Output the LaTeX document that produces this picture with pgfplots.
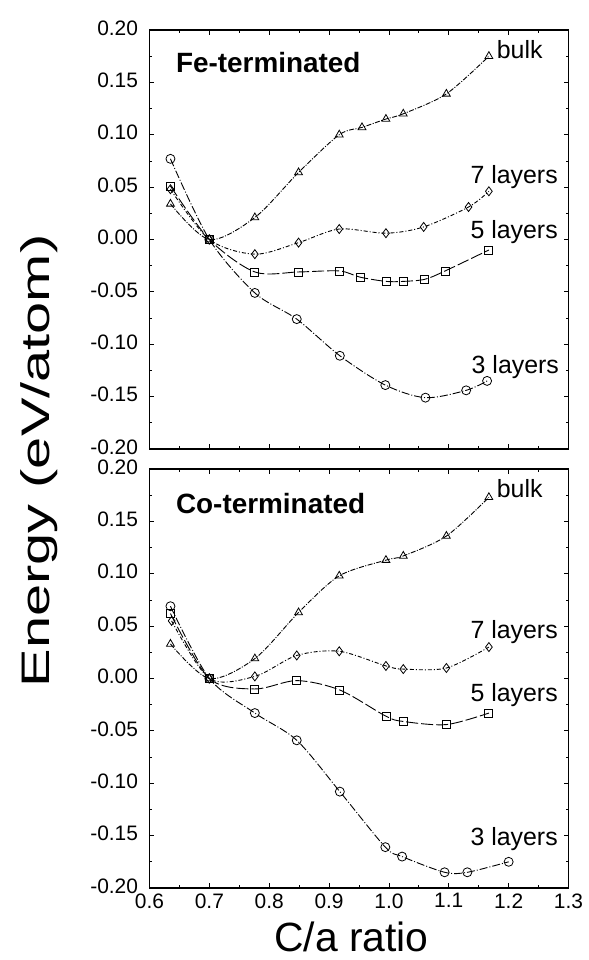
\documentclass[border=0pt]{standalone}
\usepackage{fontspec}
\setmainfont{Liberation Sans}
\setsansfont{Liberation Sans}
\usepackage{pgfplots}
\pgfplotsset{compat=1.18}

\tikzset{
  lab/.style={anchor=base west, inner sep=0pt, font=\fontsize{25}{28}\selectfont},
  ttl/.style={anchor=base west, inner sep=0pt, font=\bfseries\fontsize{28}{32}\selectfont},
}
\pgfplotsset{
  panel/.style={
    width=419bp, height=419bp, scale only axis,
    xmin=0.6, xmax=1.3, ymin=-0.2, ymax=0.2,
    xtick={0.6,0.7,0.8,0.9,1.0,1.1,1.2,1.3},
    ytick={-0.2,-0.15,-0.1,-0.05,0,0.05,0.1,0.15,0.2},
    minor x tick num=1, minor y tick num=1,
    tick align=inside, major tick length=5bp, minor tick length=3bp,
    axis line style={line width=1.2bp},
    every tick/.style={black, line width=0.8bp},
    /pgf/number format/assume math mode=true,
    y tick label style={font=\fontsize{21}{24}\selectfont, xshift=-8bp, yshift=2bp,
      /pgf/number format/fixed, /pgf/number format/fixed zerofill, /pgf/number format/precision=2},
    x tick label style={font=\fontsize{21}{24}\selectfont, yshift=-2bp,
      /pgf/number format/fixed, /pgf/number format/fixed zerofill, /pgf/number format/precision=1},
    clip=false,
  },
  ser/.style={black, line width=0.9bp, smooth, tension=0.5, mark size=4.5bp,
    mark options={solid, fill=white, line width=0.8bp}},
  sbulk/.style={ser, mark=triangle, dash pattern=on 5bp off 1.5bp on 1bp off 1.5bp},
  sseven/.style={ser, mark=diamond, dash pattern=on 4bp off 2bp on 1bp off 2bp},
  sfive/.style={ser, mark=square, mark size=4bp, dash pattern=on 12bp off 3bp},
  sthree/.style={ser, mark=o, dash pattern=on 8bp off 2bp on 1bp off 2bp},
}

\begin{document}
\begin{tikzpicture}
% top panel: Fe-terminated
\begin{axis}[panel, at={(0,439bp)}, anchor=south west, xticklabels={}]
\addplot[sbulk] coordinates {(0.635,0.034) (0.700,0.000) (0.776,0.021) (0.849,0.064) (0.917,0.100) (0.955,0.107) (0.995,0.115) (1.024,0.120) (1.096,0.139) (1.167,0.175)};
\addplot[sseven] coordinates {(0.635,0.048) (0.700,0.000) (0.776,-0.014) (0.849,-0.003) (0.917,0.010) (0.995,0.006) (1.058,0.012) (1.133,0.031) (1.167,0.046)};
\addplot[sfive] coordinates {(0.635,0.051) (0.700,0.000) (0.776,-0.031) (0.849,-0.031) (0.917,-0.030) (0.952,-0.036) (0.995,-0.040) (1.024,-0.040) (1.060,-0.038) (1.094,-0.030) (1.167,-0.010)};
\addplot[sthree] coordinates {(0.635,0.077) (0.700,0.000) (0.776,-0.051) (0.846,-0.076) (0.918,-0.111) (0.994,-0.139) (1.061,-0.151) (1.129,-0.144) (1.164,-0.135)};
\node[ttl] at (axis cs:0.644,0.159) {Fe-terminated};
\node[lab] at (axis cs:1.180,0.173) {bulk};
\node[lab] at (axis cs:1.136,0.053) {7 layers};
\node[lab] at (axis cs:1.136,0.001) {5 layers};
\node[lab] at (axis cs:1.138,-0.128) {3 layers};
\end{axis}
% bottom panel: Co-terminated
\begin{axis}[panel, at={(0,0)}, anchor=south west]
\addplot[sbulk] coordinates {(0.635,0.033) (0.700,0.000) (0.776,0.019) (0.849,0.063) (0.917,0.098) (0.995,0.113) (1.024,0.117) (1.096,0.136) (1.167,0.173)};
\addplot[sseven] coordinates {(0.637,0.055) (0.700,0.000) (0.776,0.002) (0.846,0.022) (0.917,0.026) (0.995,0.012) (1.024,0.009) (1.096,0.010) (1.167,0.030)};
\addplot[sfive] coordinates {(0.635,0.062) (0.700,0.000) (0.776,-0.010) (0.846,-0.002) (0.918,-0.011) (0.995,-0.036) (1.024,-0.041) (1.096,-0.044) (1.167,-0.033)};
\addplot[sthree] coordinates {(0.635,0.069) (0.700,0.000) (0.776,-0.033) (0.846,-0.059) (0.918,-0.108) (0.994,-0.161) (1.022,-0.170) (1.093,-0.185) (1.131,-0.185) (1.200,-0.175)};
\node[ttl] at (axis cs:0.644,0.1575) {Co-terminated};
\node[lab] at (axis cs:1.180,0.173) {bulk};
\node[lab] at (axis cs:1.136,0.038) {7 layers};
\node[lab] at (axis cs:1.136,-0.022) {5 layers};
\node[lab] at (axis cs:1.136,-0.159) {3 layers};
\end{axis}
% axis titles
\node[rotate=90, inner sep=0pt, font=\fontsize{40}{44}\selectfont] at (-110bp,427bp) {\scalebox{1.45}[1]{Energy (eV/atom)}};
\node[anchor=base, inner sep=0pt, font=\fontsize{41}{46}\selectfont] at (202bp,-63bp) {C/a ratio};
\pgfresetboundingbox
\useasboundingbox (-149.5bp,-72bp) rectangle (439.5bp,888bp);
\end{tikzpicture}
\end{document}
